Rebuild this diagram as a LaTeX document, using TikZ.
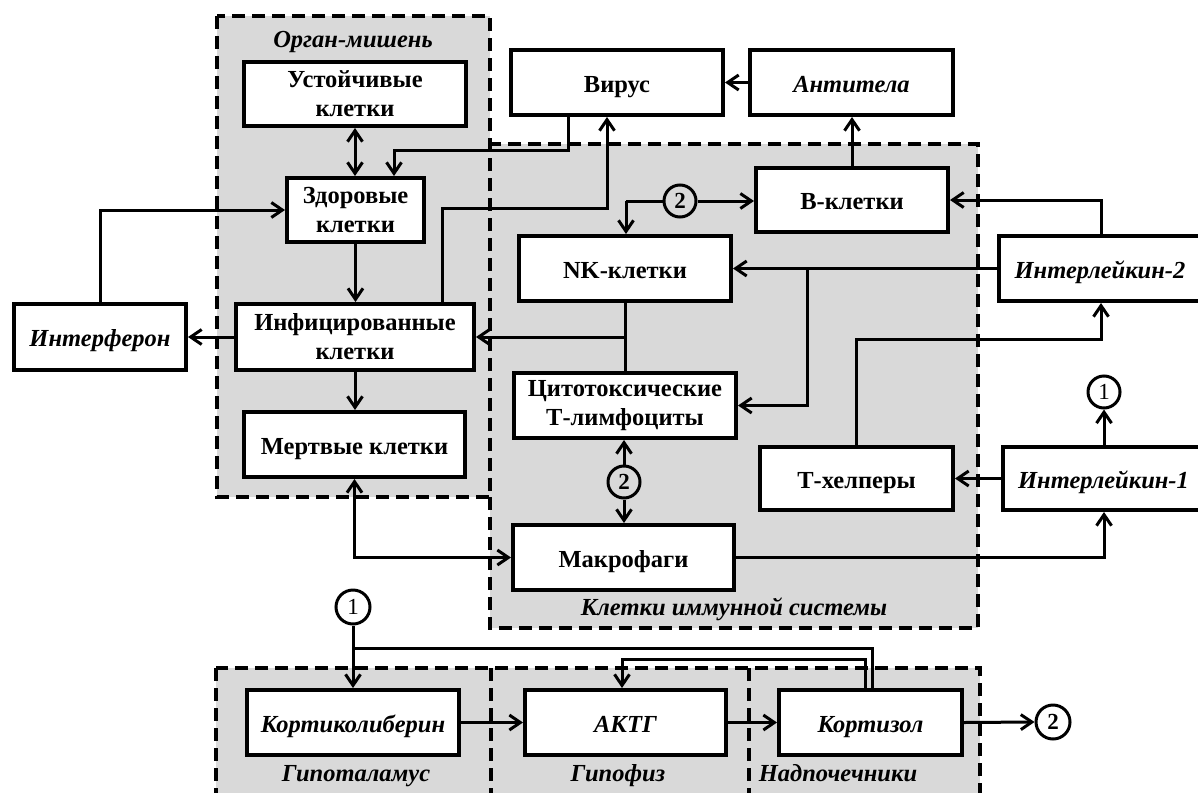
\documentclass[tikz,border=0pt]{standalone}
\usepackage{fontspec}
\setmainfont{Liberation Serif}
\usetikzlibrary{arrows.meta}
\definecolor{fonzona}{RGB}{217,217,217}

\begin{document}
\begin{tikzpicture}[
	x=1pt, y=-1pt,
	blok/.style={draw=black, fill=white, line width=4pt, inner sep=0pt,
		align=center, font=\fontsize{24.5}{29}\selectfont\bfseries},
	blokk/.style={blok, font=\fontsize{24.5}{29}\selectfont\bfseries\itshape},
	odna/.style={text height=19pt, text depth=0pt},
	zona/.style={fill=fonzona},
	kontur/.style={draw=black, line width=3.5pt, dash pattern=on 13pt off 7pt},
	nadpis/.style={anchor=base, font=\fontsize{24.5}{29}\selectfont\bfseries\itshape},
	krug/.style={circle, draw=black, line width=3pt, minimum size=32pt,
		inner sep=0pt, font=\fontsize{23}{23}\selectfont\bfseries},
	krugn/.style={krug, font=\fontsize{23}{23}\selectfont},
	svyaz/.style={line width=3pt},
	strelka/.style={svyaz, -{Straight Barb[length=11pt,width=15pt]}},
	dvestrelki/.style={svyaz, {Straight Barb[length=11pt,width=15pt]}-{Straight Barb[length=11pt,width=15pt]}},
	]
	\useasboundingbox (0,0) rectangle (1198,792);
	
	% зоны
	\fill[zona] (217,16) rectangle (490,497);
	\fill[zona] (490,144) rectangle (978,628);
	\fill[zona] (216,668) rectangle (980,800);
	\draw[kontur] (217,16) rectangle (490,497);
	\draw[kontur] (490,497) -- (490,628) -- (978,628) -- (978,144) -- (490,144);
	\draw[kontur] (216,668) rectangle (980,800);
	\draw[kontur] (491,668) -- (491,800);
	\draw[kontur] (749,668) -- (749,800);
	
	\node[nadpis] (organ) at (353,48) {Орган-мишень};
	\node[nadpis] (immun) at (734,615) {Клетки иммунной системы};
	\node[nadpis] (gipotal) at (356,781) {Гипоталамус};
	\node[nadpis] (gipofiz) at (618,781) {Гипофиз};
	\node[nadpis] (nadpoch) at (838,781) {Надпочечники};
	
	% клетки органа
	\node[blok, minimum width=222pt, minimum height=64pt] (ustoich) at (355,94) {Устойчивые\\клетки};
	\node[blok, minimum width=137pt, minimum height=64pt] (zdorov) at (355.5,210) {Здоровые\\клетки};
	\node[blok, minimum width=238pt, minimum height=66pt] (infic) at (355,337) {Инфицированные\\клетки};
	\node[blok, odna, minimum width=221pt, minimum height=65pt] (mertv) at (354.5,444.5) {Мертвые клетки};
	\node[blokk, odna, minimum width=172pt, minimum height=66pt] (interferon) at (100,337) {Интерферон};
	
	% вирус и антитела
	\node[blok, odna, minimum width=212pt, minimum height=65pt] (virus) at (617,82.5) {Вирус};
	\node[blokk, odna, minimum width=203pt, minimum height=65pt] (antitela) at (851.5,82.5) {Антитела};
	
	% иммунная система
	\node[blok, odna, minimum width=192pt, minimum height=64pt] (bkl) at (852,200) {В-клетки};
	\node[blok, odna, minimum width=212pt, minimum height=65pt] (nk) at (625,268.5) {NK-клетки};
	\node[blok, minimum width=222pt, minimum height=65pt] (cito) at (625,405.5) {Цитотоксические\\Т-лимфоциты};
	\node[blok, odna, minimum width=221pt, minimum height=65pt] (makro) at (623.5,557.5) {Макрофаги};
	\node[blok, odna, minimum width=193pt, minimum height=63pt] (thelp) at (856.5,478.5) {Т-хелперы};
	\node[blokk, odna, minimum width=202pt, minimum height=65pt] (il2) at (1100,268.5) {Интерлейкин-2};
	\node[blokk, odna, minimum width=201pt, minimum height=63pt] (il1) at (1103.5,478.5) {Интерлейкин-1};
	
	% гормоны
	\node[blokk, odna, minimum width=212pt, minimum height=65pt] (kortikolib) at (353,722.5) {Кортиколиберин};
	\node[blokk, odna, minimum width=201pt, minimum height=65pt] (aktg) at (625.5,722.5) {АКТГ};
	\node[blokk, odna, minimum width=183pt, minimum height=65pt] (kortizol) at (870.5,722.5) {Кортизол};
	
	% кружки-переходы
	\node[krug] (c2a) at (680,201) {2};
	\node[krug] (c2b) at (624,482) {2};
	\node[krug, minimum size=34pt] (c2c) at (1053,722) {2};
	\node[krugn] (c1a) at (1104,392) {1};
	\node[krugn, minimum size=34pt] (c1b) at (353,607) {1};
	
	% орган-мишень
	\draw[dvestrelki] (ustoich.south) -- (ustoich.south |- zdorov.north);
	\draw[strelka] (zdorov.south) -- (zdorov.south |- infic.north);
	\draw[strelka] (infic.south) -- (infic.south |- mertv.north);
	\draw[strelka] (infic.west) -- (interferon.east);
	\draw[strelka] (interferon.north) |- (zdorov.west);
	
	% вирус
	\coordinate (vz) at (568,150);
	\coordinate (vzz) at (394,150);
	\draw[strelka] (virus.south -| vz) -- (vz) -- (vzz) -- (zdorov.north -| vzz);
	\coordinate (iv) at (442,208);
	\coordinate (ivv) at (607,208);
	\draw[strelka] (infic.north -| iv) -- (iv) -- (ivv) -- (virus.south -| ivv);
	\draw[strelka] (antitela.west) -- (virus.east);
	\draw[strelka] (bkl.north) -- (bkl.north |- antitela.south);
	
	% связи иммунных клеток
	\coordinate (kn) at (626,201);
	\draw[svyaz] (c2a.west) -- (kn);
	\draw[strelka] (kn) -- (nk.north -| kn);
	\draw[strelka] (c2a.east) -- (c2a.east -| bkl.west);
	\coordinate (ib) at (1101,0);
	\draw[strelka] (il2.north -| ib) |- (bkl.east);
	\draw[strelka] (il2.west) -- (nk.east);
	\coordinate (ic) at (807,0);
	\draw[strelka] (il2.west -| ic) |- (cito.east);
	\draw[svyaz] (nk.south) -- (cito.north);
	\draw[strelka] (nk.south |- infic.east) -- (infic.east);
	\draw[strelka] (c2b.north) -- (c2b.north |- cito.south);
	\draw[strelka] (c2b.south) -- (c2b.south |- makro.north);
	\draw[dvestrelki] (mertv.south) |- (makro.west);
	\coordinate (mi) at (1104,0);
	\draw[strelka] (makro.east) -| (il1.south -| mi);
	\coordinate (ti) at (1101,339);
	\draw[strelka] (thelp.north) |- (ti) -- (il2.south -| ti);
	\draw[strelka] (il1.west) -- (il1.west -| thelp.east);
	\draw[strelka] (il1.north -| c1a) -- (c1a.south);
	
	% гормональная ось
	\draw[strelka] (c1b.south) -- (kortikolib.north);
	\draw[strelka] (kortikolib.east) -- (aktg.west);
	\draw[strelka] (aktg.east) -- (kortizol.west);
	\draw[strelka] (kortizol.east) -- (c2c.west);
	\coordinate (ok) at (872,648);
	\draw[svyaz] (kortizol.north -| ok) -- (ok) -- (ok -| c1b);
	\coordinate (oa) at (865,659);
	\coordinate (oaa) at (622,659);
	\draw[strelka] (kortizol.north -| oa) -- (oa) -- (oaa) -- (aktg.north -| oaa);
	
\end{tikzpicture}
\end{document}
